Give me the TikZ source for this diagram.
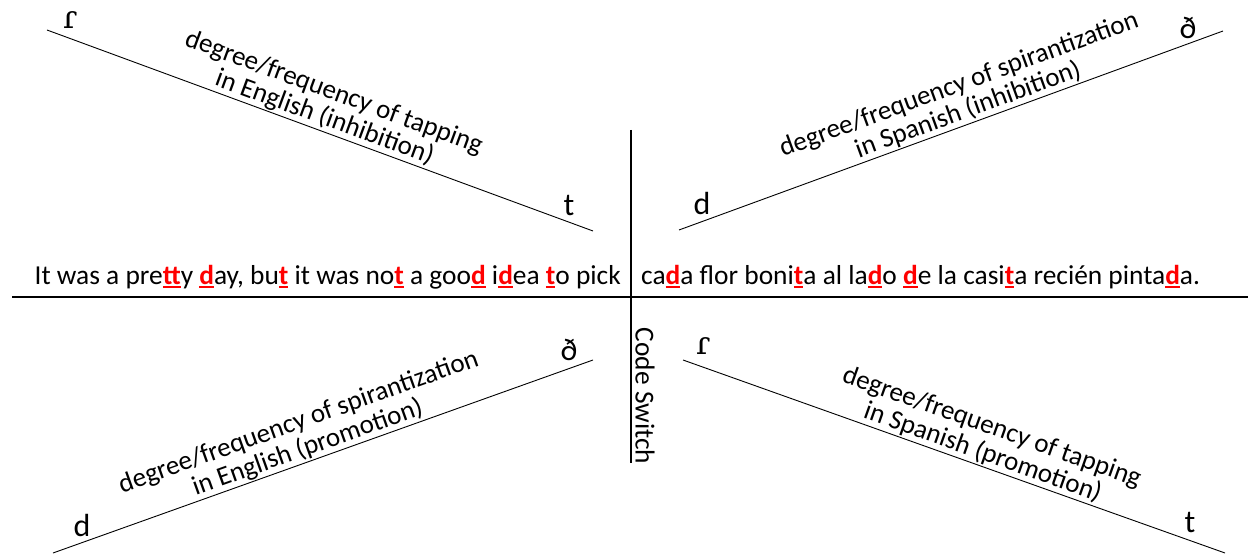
\documentclass[tikz,border=0pt]{standalone}
\usepackage{fontspec}
\setmainfont{Carlito}
\newfontfamily\ipafont{DejaVu Serif}
\newcommand{\hl}[1]{\textcolor{red}{\bfseries\setbox0\hbox{#1}\rlap{\rule[-3.6pt]{\wd0}{2pt}}\box0}}
\tikzset{
  axis/.style={line width=2.2pt},
  scale line/.style={line width=0.9pt},
  lbl/.style={font=\fontsize{27}{27}\selectfont, align=center, sloped, above, inner sep=1pt},
  endl/.style={font=\fontsize{32}{34}\selectfont, inner sep=0pt},
  sent/.style={font=\fontsize{27.4}{30}\selectfont, inner sep=0pt}
}
\begin{document}
\begin{tikzpicture}[x=1pt,y=-1pt]
\useasboundingbox (0,0) rectangle (1248,556);
% axes
\coordinate (hl) at (12,297);
\coordinate (hr) at (1248,297);
\coordinate (vt) at (631,130);
\coordinate (vb) at (631,463);
\draw[axis] (hl) -- (hr);
\draw[axis] (vt) -- (vb);
% slanted scales
\coordinate (a1) at (47,30);   \coordinate (a2) at (593,231);
\coordinate (b1) at (679,230); \coordinate (b2) at (1223,31);
\coordinate (c1) at (53,553);  \coordinate (c2) at (593,360);
\coordinate (d1) at (683,360); \coordinate (d2) at (1225,553);
\draw[scale line] (a1) -- node[lbl, pos=0.5] {degree/frequency of tapping\\in English (inhibition)} (a2);
\draw[scale line] (b1) -- node[lbl, pos=0.54] {degree/frequency of spirantization\\in Spanish (inhibition)} (b2);
\draw[scale line] (c1) -- node[lbl, pos=0.48] {degree/frequency of spirantization\\in English (promotion)} (c2);
\draw[scale line] (d1) -- node[lbl, pos=0.545] {degree/frequency of tapping\\in Spanish (promotion)} (d2);
% end labels
\node[endl] (atap) at (70,20) {\ipafont ɾ};
\node[endl] (at) at (569,206) {t};
\node[endl] (bd) at (702,204) {d};
\node[endl] (bdh) at (1188,28) {ð};
\node[endl] (cd) at (82,525) {d};
\node[endl] (cdh) at (569,350) {ð};
\node[endl] (dtap) at (703,346) {\ipafont ɾ};
\node[endl] (dt) at (1190,522) {t};
% sentence
\node[sent, anchor=base east] (left) at (621,284) {It was a pre\hl{tt}y \hl{d}ay, bu\hl{t} it was no\hl{t} a goo\hl{d} i\hl{d}ea \hl{t}o pick};
\node[sent, anchor=base west] (right) at (641,284) {ca\hl{d}a flor boni\hl{t}a al la\hl{d}o \hl{d}e la casi\hl{t}a recién pinta\hl{d}a.};
% code switch
\node[sent, rotate=-90, anchor=center] (cs) at (645,396) {Code Switch};
\end{tikzpicture}
\end{document}
